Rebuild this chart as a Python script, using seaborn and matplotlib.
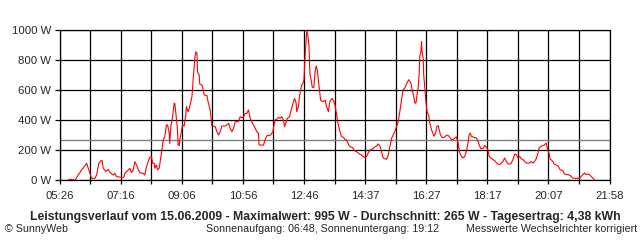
import matplotlib
matplotlib.use("Agg")
import matplotlib.pyplot as plt
import seaborn as sns
import pandas as pd
import numpy as np

# ---- data ----
# time of day in minutes since midnight
t_min = [341, 344, 353, 359, 365, 371, 374, 376, 380, 383, 389, 392, 396, 400, 402, 404, 409, 413, 416, 422,
         425, 428, 437, 441, 443, 449, 452, 455, 458, 461, 464, 467, 470, 476, 479, 482, 485, 488, 491, 493,
         496, 497, 500, 502, 505, 508, 511, 512, 515, 518, 520, 523, 524, 526, 527, 529, 532, 533, 535, 538,
         539, 541, 542, 545, 547, 550, 553, 554, 557, 560, 564, 566, 569, 571, 573, 574, 577, 578, 582, 583,
         586, 591, 593, 597, 600, 602, 606, 609, 612, 615, 618, 624, 627, 630, 633, 636, 639, 642, 648, 651,
         654, 657, 660, 663, 666, 669, 672, 675, 678, 681, 684, 685, 693, 696, 699, 706, 710, 712, 714, 717,
         720, 723, 726, 729, 731, 734, 736, 740, 742, 744, 747, 749, 752, 753, 756, 758, 760, 762, 764, 766,
         768, 771, 773, 775, 776, 777, 779, 781, 784, 786, 788, 790, 792, 794, 796, 800, 804, 806, 808, 810,
         812, 814, 817, 820, 822, 825, 828, 831, 834, 837, 840, 843, 846, 849, 854, 857, 861, 866, 870, 873,
         876, 879, 882, 885, 888, 891, 894, 897, 900, 903, 906, 908, 910, 915, 918, 921, 924, 927, 930, 933,
         936, 939, 942, 945, 948, 951, 955, 959, 961, 964, 966, 968, 970, 972, 974, 975, 977, 978, 979, 981,
         982, 984, 986, 988, 991, 993, 996, 999, 1001, 1004, 1006, 1008, 1010, 1012, 1015, 1019, 1023, 1026, 1029, 1032,
         1035, 1038, 1041, 1044, 1047, 1050, 1053, 1056, 1059, 1062, 1064, 1066, 1068, 1073, 1077, 1080, 1082, 1085, 1089, 1092,
         1095, 1098, 1100, 1103, 1107, 1110, 1115, 1119, 1122, 1125, 1128, 1131, 1134, 1139, 1143, 1146, 1149, 1152, 1155, 1158,
         1161, 1164, 1167, 1173, 1176, 1179, 1182, 1185, 1188, 1190, 1194, 1197, 1199, 1203, 1206, 1208, 1210, 1215, 1217, 1222,
         1225, 1228, 1233, 1236, 1240, 1243, 1248, 1251, 1254, 1257, 1260, 1263, 1266, 1269, 1272, 1275, 1278, 1281, 1284, 1287,
         1290]
# power in W
power_w = [0, 5, 0, 33, 67, 95, 111, 89, 44, 11, 11, 33, 111, 129, 129, 78, 56, 71, 51, 33,
           44, 22, 18, 18, 44, 67, 78, 49, 67, 122, 100, 71, 49, 44, 33, 89, 122, 151, 156, 111,
           111, 78, 100, 67, 80, 156, 233, 267, 289, 367, 367, 311, 244, 367, 378, 422, 511, 511, 444, 333,
           233, 230, 267, 322, 367, 360, 433, 489, 455, 489, 556, 655, 811, 855, 845, 722, 700, 640, 633, 625,
           567, 562, 522, 467, 360, 360, 355, 322, 300, 322, 360, 360, 367, 378, 344, 322, 344, 389, 389, 422,
           415, 422, 444, 444, 467, 411, 389, 367, 344, 322, 311, 233, 233, 267, 295, 300, 322, 367, 400, 405,
           418, 411, 422, 400, 355, 389, 411, 422, 455, 478, 522, 544, 511, 455, 489, 556, 600, 633, 644, 667,
           822, 995, 967, 900, 778, 700, 667, 618, 618, 722, 760, 733, 667, 600, 533, 522, 533, 500, 478, 455,
           511, 533, 544, 522, 500, 433, 367, 322, 289, 285, 271, 267, 240, 222, 215, 195, 189, 173, 167, 156,
           151, 156, 182, 200, 204, 211, 222, 227, 240, 227, 189, 156, 144, 138, 167, 222, 278, 300, 322, 355,
           389, 458, 536, 602, 613, 640, 669, 647, 602, 558, 513, 513, 569, 613, 724, 824, 858, 924, 858, 813,
           702, 613, 524, 458, 431, 380, 336, 307, 291, 324, 358, 362, 336, 302, 284, 284, 298, 298, 284, 269,
           269, 280, 287, 247, 180, 158, 147, 158, 191, 247, 302, 313, 291, 284, 280, 258, 236, 209, 209, 231,
           218, 202, 158, 147, 136, 129, 107, 102, 113, 124, 147, 124, 107, 107, 136, 173, 169, 147, 158, 142,
           136, 124, 113, 113, 124, 113, 124, 142, 180, 213, 224, 231, 231, 247, 196, 180, 140, 124, 107, 98,
           91, 69, 62, 40, 36, 36, 24, 13, 13, 9, 13, 9, 24, 36, 47, 36, 40, 36, 24, 13,
           2]

x_labels = ["05:26", "07:16", "09:06", "10:56", "12:46", "14:37", "16:27", "18:17", "20:07", "21:58"]
y_values = [0, 200, 400, 600, 800, 1000]
average_w = 265

title = ("Leistungsverlauf vom 15.06.2009 - Maximalwert: 995 W - Durchschnitt: 265 W - "
         "Tagesertrag: 4,38 kWh")
footer_left = "\u00a9 SunnyWeb"
footer_mid = "Sonnenaufgang: 06:48, Sonnenuntergang: 19:12"
footer_right = "Messwerte Wechselrichter korrigiert"

# ---- plotting ----
sns.set_style("white")
plt.rcParams["font.family"] = ["Liberation Sans", "DejaVu Sans"]

df = pd.DataFrame({"t": t_min, "p": power_w})

fig = plt.figure(figsize=(6.4, 2.4), dpi=100)
ax = fig.add_axes([60 / 640, 60 / 240, 550 / 640, 150 / 240])

def to_min(s):
    h, m = s.split(":")
    return int(h) * 60 + int(m)

major = [to_min(s) for s in x_labels]
minor = [(a + b) / 2 for a, b in zip(major[:-1], major[1:])]

ax.axhline(average_w, color="#808080", lw=1.0, zorder=1.5)
sns.lineplot(data=df, x="t", y="p", ax=ax, color="#ff0000", linewidth=0.8, zorder=3)

ax.set_xlim(major[0], major[-1])
ax.set_ylim(0, 1000)
ax.set_xticks(major)
ax.set_xticklabels(x_labels)
ax.set_xticks(minor, minor=True)
ax.set_yticks(y_values)
ax.set_yticklabels([f"{v} W" for v in y_values])

ax.grid(True, which="both", color="black", linewidth=0.9, zorder=1)
ax.set_axisbelow(True)
for s in ax.spines.values():
    s.set_color("black")
    s.set_linewidth(0.9)
ax.tick_params(axis="x", which="both", direction="out", length=3, width=0.9,
               color="black", bottom=True, labelsize=8.2, pad=5)
ax.tick_params(axis="y", which="both", direction="out", length=3.5, width=0.9,
               color="black", left=True, labelsize=8.2, pad=3)
ax.set_xlabel("")
ax.set_ylabel("")

fig.text(325 / 640, 1 - 217 / 240, title, ha="center", va="center",
         fontsize=8.8, fontweight="bold")
fig.text(5 / 640, 1 - 229 / 240, footer_left, ha="left", va="center", fontsize=7.7)
fig.text(322 / 640, 1 - 229 / 240, footer_mid, ha="center", va="center", fontsize=7.7)
fig.text(637 / 640, 1 - 229 / 240, footer_right, ha="right", va="center", fontsize=7.7)

fig.savefig("out.png", dpi=100, facecolor="white")
